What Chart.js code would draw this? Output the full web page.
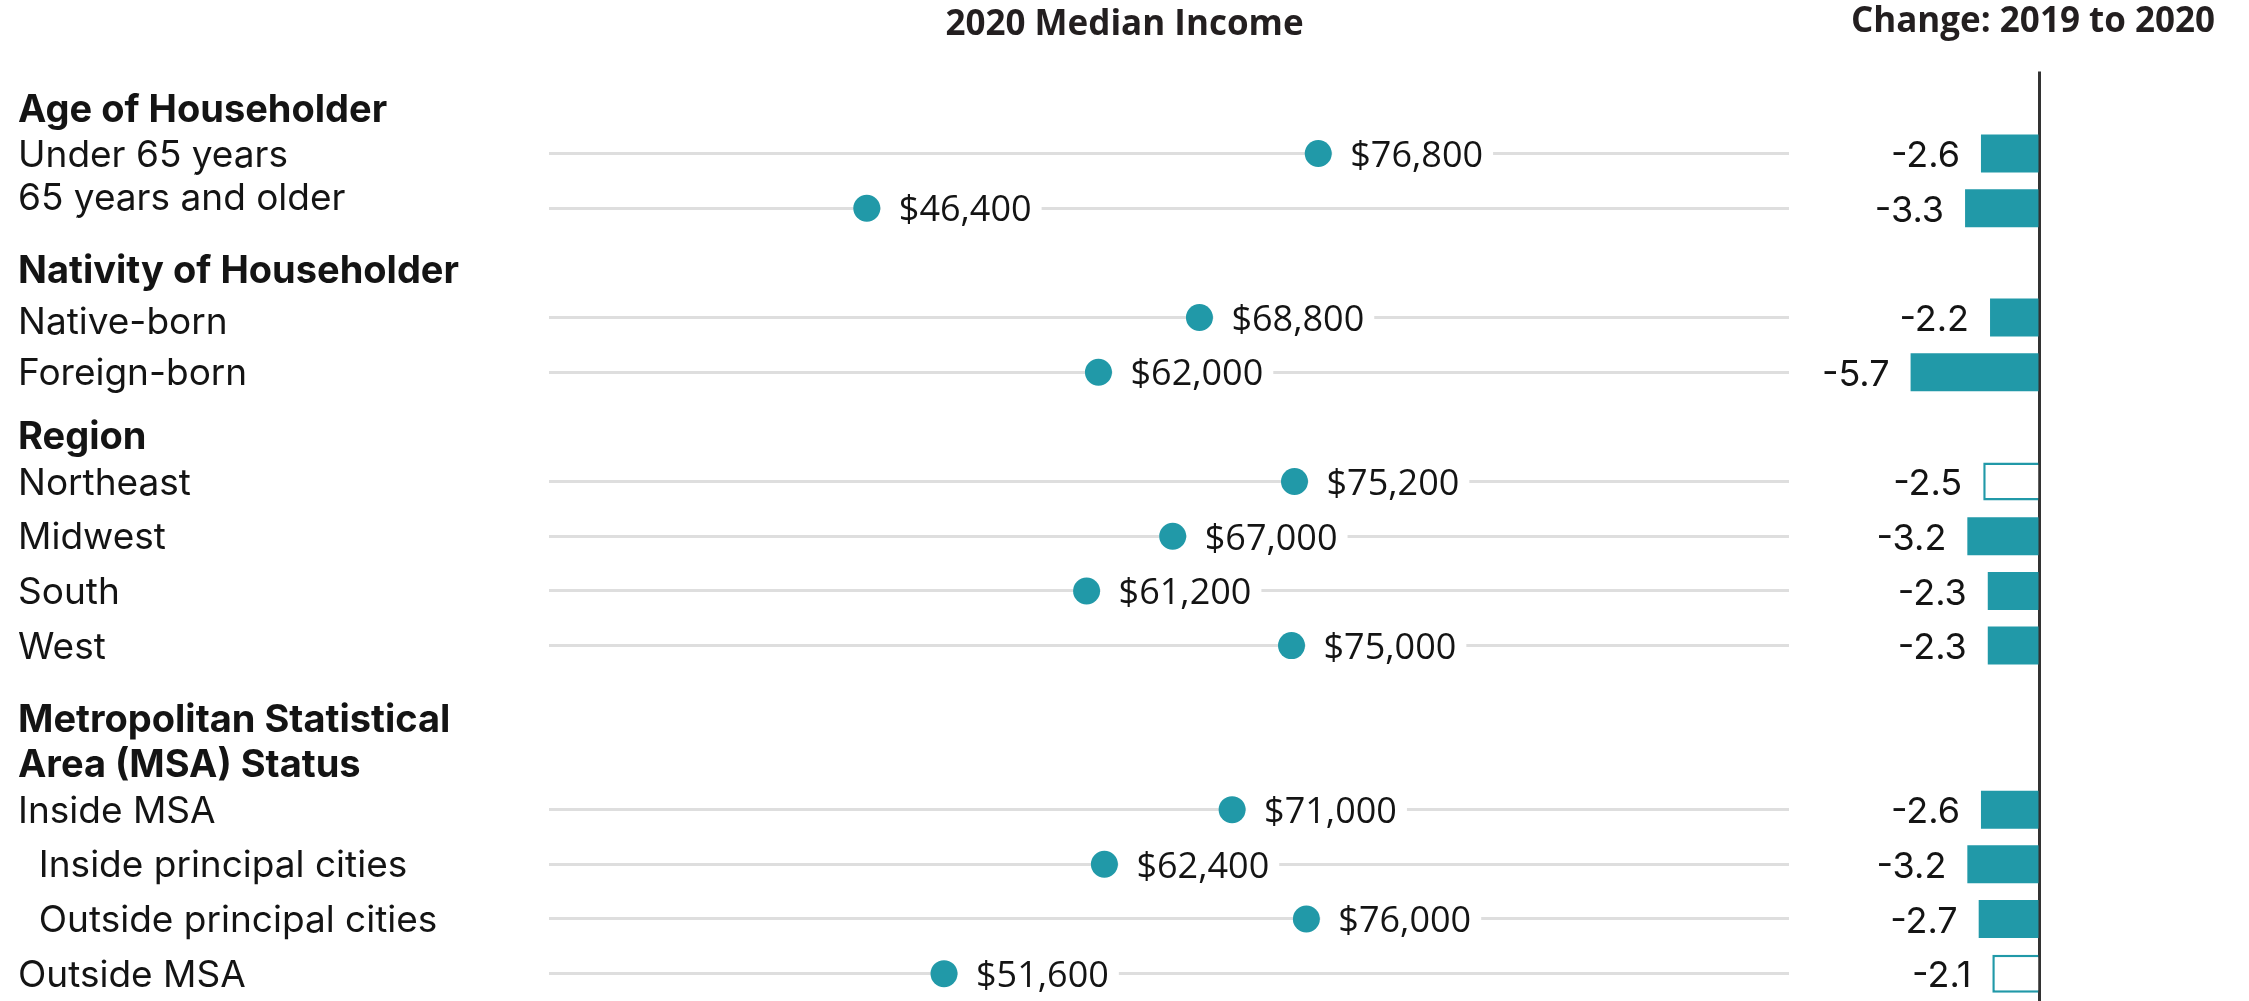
<!DOCTYPE html>
<html>
<head>
<meta charset="utf-8">
<script src="https://cdn.jsdelivr.net/npm/chart.js@4.4.1/dist/chart.umd.min.js"></script>
<style>
  html, body { margin: 0; padding: 0; background: #ffffff; }
  #wrap { position: relative; width: 2249px; height: 1001px; overflow: hidden; background: #ffffff; }
  #income { position: absolute; left: 0; top: 0; }
  #change { position: absolute; left: 1790px; top: 0; }
</style>
</head>
<body>
<div id="wrap">
  <canvas id="income" width="2249" height="1001"></canvas>
  <canvas id="change" width="459" height="1001"></canvas>
</div>
<script>
// ---------------- data ----------------
const categories = [
  'Age of Householder',
  'Under 65 years',
  '65 years and older',
  'Nativity of Householder',
  'Native-born',
  'Foreign-born',
  'Region',
  'Northeast',
  'Midwest',
  'South',
  'West',
  'Metropolitan Statistical',
  'Area (MSA) Status',
  'Inside MSA',
  'Inside principal cities',
  'Outside principal cities',
  'Outside MSA'
];
const headerRows = ['Age of Householder', 'Nativity of Householder', 'Region',
                    'Metropolitan Statistical', 'Area (MSA) Status'];
const indentedRows = ['Inside principal cities', 'Outside principal cities'];

// 2020 median household income (dollars)
const medianIncome = [null, 76800, 46400, null, 68800, 62000, null,
                      75200, 67000, 61200, 75000, null, null,
                      71000, 62400, 76000, 51600];

// Percent change 2019 to 2020
const changeValues = [null, -2.6, -3.3, null, -2.2, -5.7, null,
                      -2.5, -3.2, -2.3, -2.3, null, null,
                      -2.6, -3.2, -2.7, -2.1];
// Statistically significant change (filled bar) or not (open bar)
const significant = [null, true, true, null, true, true, null,
                     false, true, true, true, null, null,
                     true, true, true, false];

// ---------------- styles / layout ----------------
const TEAL = '#2199a8';
const TEXT = '#141414';
const LABEL_FAMILY = 'Inter, "Open Sans", sans-serif';
const VALUE_FAMILY = '"Open Sans", sans-serif';
// small vertical nudges (px) of the row-label text, as in the original layout
const labelNudge = {
  'Age of Householder': 10,
  '65 years and older': -11,
  'Nativity of Householder': 7,
  'Native-born': 3,
  'Region': 9,
  'Metropolitan Statistical': 18,
  'Area (MSA) Status': 9
};

const isHeader = i => headerRows.includes(categories[i]);

const incomeLabelPlugin = {
  id: 'incomeLabels',
  beforeDatasetsDraw(chart) {
    const ctx = chart.ctx;
    const meta = chart.getDatasetMeta(0);
    ctx.save();
    ctx.font = '36px ' + VALUE_FAMILY;
    ctx.fillStyle = '#ffffff';
    meta.data.forEach((pt, i) => {
      if (medianIncome[i] == null) return;
      const txt = '$' + medianIncome[i].toLocaleString('en-US');
      const w = ctx.measureText(txt).width;
      ctx.fillRect(pt.x + 14, pt.y - 6, 18 + w + 10, 12);
    });
    ctx.restore();
  },
  afterDatasetsDraw(chart) {
    const ctx = chart.ctx;
    const meta = chart.getDatasetMeta(0);
    ctx.save();
    ctx.font = '36px ' + VALUE_FAMILY;
    ctx.fillStyle = TEXT;
    ctx.textAlign = 'left';
    ctx.textBaseline = 'middle';
    meta.data.forEach((pt, i) => {
      if (medianIncome[i] == null) return;
      const txt = '$' + medianIncome[i].toLocaleString('en-US');
      ctx.fillText(txt, pt.x + 32, pt.y + 3);
    });
    ctx.restore();
  }
};

const changeLabelPlugin = {
  id: 'changeLabels',
  afterDatasetsDraw(chart) {
    const ctx = chart.ctx;
    const meta = chart.getDatasetMeta(0);
    ctx.save();
    ctx.font = '36px ' + LABEL_FAMILY;
    ctx.fillStyle = TEXT;
    ctx.textAlign = 'right';
    ctx.textBaseline = 'middle';
    meta.data.forEach((bar, i) => {
      if (changeValues[i] == null) return;
      const left = Math.min(bar.x, bar.base);
      ctx.fillText(changeValues[i].toFixed(1), left - 21, bar.y + 3);
    });
    ctx.restore();
  }
};

function tickFont(c) {
  const name = categories[c.index];
  const nudge = labelNudge[name] || 0;
  const header = isHeader(c.index);
  const f = { family: LABEL_FAMILY, size: header ? 38 : 37, weight: header ? '700' : '400' };
  if (nudge !== 0) f.lineHeight = (2 * Math.abs(nudge)) + 'px';
  return f;
}

function tickLabel(v, i) {
  const name = categories[i];
  const text = (indentedRows.includes(name) ? '  ' : '') + name;
  const nudge = labelNudge[name] || 0;
  if (nudge > 0) return ['', text];
  if (nudge < 0) return [text, ''];
  return text;
}

function build() {
  new Chart(document.getElementById('income'), {
    type: 'line',
    data: {
      labels: categories,
      datasets: [{
        data: medianIncome,
        showLine: false,
        pointRadius: 13.5,
        pointHoverRadius: 13.5,
        pointBackgroundColor: TEAL,
        pointBorderWidth: 0,
        borderColor: TEAL
      }]
    },
    options: {
      indexAxis: 'y',
      responsive: false,
      animation: false,
      events: [],
      layout: { autoPadding: false, padding: { left: 18, right: 18, top: 0, bottom: 0 } },
      plugins: {
        legend: { display: false },
        tooltip: { enabled: false },
        title: {
          display: true,
          text: '2020 Median Income',
          color: '#231f20',
          font: { family: VALUE_FAMILY, size: 35, weight: '700', lineHeight: 1.2 },
          padding: { top: 4, bottom: 25.5 }
        }
      },
      scales: {
        x: { type: 'linear', display: false, min: 25000, max: 108500 },
        y: {
          type: 'category',
          position: 'left',
          offset: true,
          border: { display: false },
          grid: {
            drawTicks: false,
            lineWidth: 3,
            color: c => isHeader(c.index) ? 'rgba(0,0,0,0)' : '#dedede'
          },
          ticks: {
            autoSkip: false,
            crossAlign: 'far',
            padding: 0,
            labelOffset: 2,
            color: TEXT,
            font: tickFont,
            callback: tickLabel
          },
          afterFit: s => { s.width = 531; s.paddingTop = 0; s.paddingBottom = 0; }
        },
        yRight: {
          type: 'linear',
          position: 'right',
          display: true,
          grid: { display: false },
          border: { display: false },
          ticks: { display: false },
          afterFit: s => { s.width = 442; s.paddingTop = 0; s.paddingBottom = 0; }
        }
      }
    },
    plugins: [incomeLabelPlugin]
  });

  new Chart(document.getElementById('change'), {
    type: 'bar',
    data: {
      labels: categories,
      datasets: [{
        data: changeValues,
        backgroundColor: significant.map(s => s === false ? '#ffffff' : TEAL),
        borderColor: TEAL,
        borderWidth: significant.map(s => s === false ? 2.5 : 0),
        barPercentage: 0.695,
        categoryPercentage: 1
      }]
    },
    options: {
      indexAxis: 'y',
      responsive: false,
      animation: false,
      events: [],
      layout: { autoPadding: false, padding: { left: 40, right: 34, top: 0, bottom: 0 } },
      plugins: {
        legend: { display: false },
        tooltip: { enabled: false },
        title: {
          display: true,
          text: 'Change: 2019 to 2020',
          align: 'end',
          color: '#231f20',
          font: { family: VALUE_FAMILY, size: 35, weight: '700', lineHeight: 1.2 },
          padding: { top: 1, bottom: 28.5 }
        }
      },
      scales: {
        x: {
          type: 'linear',
          min: -9.25,
          max: 7.71,
          position: 'bottom',
          border: { display: false },
          ticks: { display: false, stepSize: 1 },
          grid: {
            drawTicks: false,
            lineWidth: 3,
            color: c => (c.tick && c.tick.value === 0) ? '#333333' : 'rgba(0,0,0,0)'
          },
          afterFit: s => { s.height = 0; }
        },
        y: { type: 'category', display: false, offset: true }
      }
    },
    plugins: [changeLabelPlugin]
  });
}

const fontLoads = ['37px Inter', 'bold 38px Inter', '36px "Open Sans"', 'bold 35px "Open Sans"']
  .map(f => document.fonts.load(f).catch(() => null));
Promise.all(fontLoads).then(build, build);
</script>
</body>
</html>
